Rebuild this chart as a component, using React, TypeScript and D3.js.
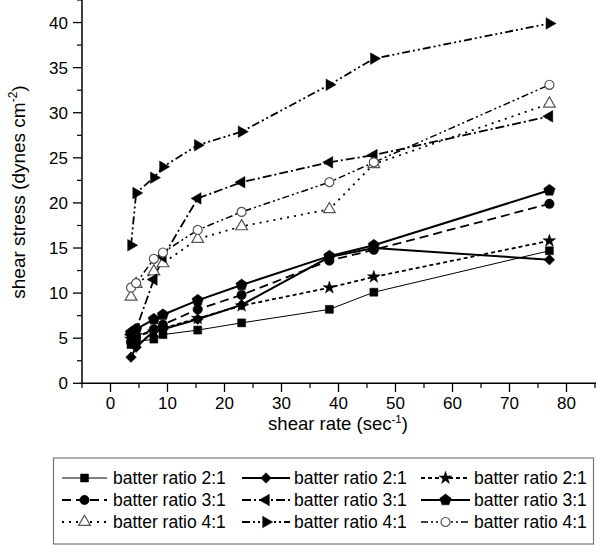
import React from "react";
import * as d3 from "d3";

const shearRate = [3.6, 4.5, 7.6, 9.2, 15.3, 23.0, 38.4, 46.2, 77.0];

const s21thin = [4.3, 4.6, 4.9, 5.4, 5.9, 6.7, 8.2, 10.1, 14.7];
const s31dash = [4.6, 5.1, 6.0, 6.5, 8.2, 9.8, 13.6, 14.8, 19.9];
const s41dot = [9.6, 11.0, 12.4, 13.3, 16.0, 17.4, 19.3, 24.3, 31.0];
const s21thick = [2.9, 4.0, 5.8, 6.0, 7.1, 8.7, 14.0, 15.0, 13.7];
const s31dashdot = [5.4, 6.0, 11.5, 14.0, 20.5, 22.3, 24.5, 25.3, 29.6];
const s41dashdotdot = [15.3, 21.1, 22.8, 24.0, 26.4, 27.9, 33.1, 36.0, 39.9];
const s21short = [4.9, 5.3, 5.7, 6.1, 7.2, 8.6, 10.6, 11.8, 15.8];
const s31thick = [5.6, 6.0, 7.1, 7.6, 9.2, 10.9, 14.1, 15.3, 21.4];
const s41open = [10.6, 11.1, 13.8, 14.5, 17.0, 19.0, 22.3, 24.5, 33.1];

const seriesLabels = [
  "batter ratio 2:1", "batter ratio 3:1", "batter ratio 4:1",
  "batter ratio 2:1", "batter ratio 3:1", "batter ratio 4:1",
  "batter ratio 2:1", "batter ratio 3:1", "batter ratio 4:1",
];

const xTicks = [0, 10, 20, 30, 40, 50, 60, 70, 80];
const yTicks = [0, 5, 10, 15, 20, 25, 30, 35, 40];

type Style = { dash: string; width: number; marker: string; open: boolean };
const styles: Style[] = [
  { dash: "none", width: 1, marker: "square", open: false },
  { dash: "9,5", width: 1.8, marker: "circle", open: false },
  { dash: "2,5", width: 1.8, marker: "triangle", open: true },
  { dash: "none", width: 2, marker: "diamond", open: false },
  { dash: "9,3,2,3", width: 1.8, marker: "left", open: false },
  { dash: "8,3,2,3,2,3", width: 1.8, marker: "right", open: false },
  { dash: "4,3", width: 1.8, marker: "star", open: false },
  { dash: "none", width: 2, marker: "pentagon", open: false },
  { dash: "7,3,2,3,2,3", width: 1.5, marker: "ocircle", open: true },
];
const allSeries = [s21thin, s31dash, s41dot, s21thick, s31dashdot, s41dashdotdot, s21short, s31thick, s41open];

function pentagonPath(r: number) {
  const pts: [number, number][] = [];
  for (let i = 0; i < 5; i++) {
    const a = -Math.PI / 2 + (i * 2 * Math.PI) / 5;
    pts.push([r * Math.cos(a), r * Math.sin(a)]);
  }
  return "M" + pts.map((p) => p.join(",")).join("L") + "Z";
}

function Marker({ kind, x, y, open }: { kind: string; x: number; y: number; open: boolean }) {
  let d = "";
  let rot = 0;
  if (kind === "square") d = d3.symbol(d3.symbolSquare, 64)() as string;
  else if (kind === "circle") d = d3.symbol(d3.symbolCircle, 70)() as string;
  else if (kind === "ocircle") d = d3.symbol(d3.symbolCircle, 64)() as string;
  else if (kind === "triangle") d = d3.symbol(d3.symbolTriangle, 60)() as string;
  else if (kind === "diamond") { d = d3.symbol(d3.symbolSquare, 56)() as string; rot = 45; }
  else if (kind === "left") { d = d3.symbol(d3.symbolTriangle, 58)() as string; rot = -90; }
  else if (kind === "right") { d = d3.symbol(d3.symbolTriangle, 58)() as string; rot = 90; }
  else if (kind === "star") d = d3.symbol(d3.symbolStar, 50)() as string;
  else if (kind === "pentagon") d = pentagonPath(6);
  return (
    <path
      d={d}
      transform={`translate(${x},${y}) rotate(${rot})`}
      fill={open ? "#fff" : "#000"}
      stroke={open ? "#555" : "#000"}
      strokeWidth={open ? 1.2 : 0.5}
    />
  );
}

export default function App() {
  const W = 597, H = 545;
  const x = d3.scaleLinear().domain([-5, 85]).range([82, 595]);
  const y = d3.scaleLinear().domain([0, 42.5]).range([383.3, 0]);
  const font = "'Liberation Sans', Arial, Helvetica, sans-serif";
  const line = d3.line<[number, number]>().x((d) => x(d[0])).y((d) => y(d[1]));

  const xMinor = d3.range(-5, 86, 5).filter((v) => v % 10 !== 0);
  const yMinor = d3.range(0, 42.6, 2.5).filter((v) => v % 5 !== 0);

  const legendCols = [
    { x0: 62, x1: 107, tx: 113 },
    { x0: 242, x1: 290, tx: 294 },
    { x0: 421, x1: 470, tx: 474 },
  ];
  const legendRows = [478, 500, 522];
  const legendIdx = [
    [0, 3, 6],
    [1, 4, 7],
    [2, 5, 8],
  ];

  return (
    <svg width={W} height={H} style={{ position: "absolute", left: 0, top: 0, background: "#fff" }} fontFamily={font}>
      <rect x={0} y={0} width={W} height={H} fill="#fff" />
      <line x1={82} x2={82} y1={0} y2={384} stroke="#000" strokeWidth={1.5} />
      <line x1={81.3} x2={596} y1={383.3} y2={383.3} stroke="#000" strokeWidth={1.5} />
      {yTicks.map((t) => (
        <g key={"yt" + t}>
          <line x1={73} x2={82} y1={y(t)} y2={y(t)} stroke="#000" strokeWidth={1.3} />
          <text x={68} y={y(t)} dy="0.36em" textAnchor="end" fontSize={17}>{t}</text>
        </g>
      ))}
      {yMinor.map((t) => (
        <line key={"ym" + t} x1={77} x2={82} y1={y(t)} y2={y(t)} stroke="#000" strokeWidth={1.2} />
      ))}
      {xTicks.map((t) => (
        <g key={"xt" + t}>
          <line x1={x(t)} x2={x(t)} y1={383} y2={392} stroke="#000" strokeWidth={1.3} />
          <text x={x(t)} y={409} textAnchor="middle" fontSize={17}>{t}</text>
        </g>
      ))}
      {xMinor.map((t) => (
        <line key={"xm" + t} x1={x(t)} x2={x(t)} y1={383} y2={388} stroke="#000" strokeWidth={1.2} />
      ))}
      <text x={338} y={430} textAnchor="middle" fontSize={18.5}>
        shear rate (sec<tspan fontSize={11.5} dy={-7}>-1</tspan><tspan dy={7}>)</tspan>
      </text>
      <text transform="translate(25,192) rotate(-90)" textAnchor="middle" fontSize={19}>
        shear stress (dynes cm<tspan fontSize={12} dy={-8}>-2</tspan><tspan dy={8}>)</tspan>
      </text>

      {allSeries.map((s, i) => (
        <path
          key={"l" + i}
          d={line(s.map((v, j) => [shearRate[j], v] as [number, number])) as string}
          fill="none"
          stroke="#000"
          strokeWidth={styles[i].width}
          strokeDasharray={styles[i].dash}
        />
      ))}
      {allSeries.map((s, i) =>
        s.map((v, j) => (
          <Marker key={"m" + i + "-" + j} kind={styles[i].marker} x={x(shearRate[j])} y={y(v)} open={styles[i].open} />
        ))
      )}

      <rect x={53.5} y={458} width={540} height={86} fill="#fff" stroke="#777" strokeWidth={1.2} />
      {legendRows.map((ry, r) =>
        legendCols.map((c, ci) => {
          const idx = legendIdx[r][ci];
          const st = styles[idx];
          return (
            <g key={"lg" + r + "-" + ci}>
              <line x1={c.x0} x2={c.x1} y1={ry} y2={ry} stroke="#000" strokeWidth={st.width} strokeDasharray={st.dash} />
              <Marker kind={st.marker} x={(c.x0 + c.x1) / 2} y={ry} open={st.open} />
              <text x={c.tx} y={ry} dy="0.36em" fontSize={17.5}>{seriesLabels[idx]}</text>
            </g>
          );
        })
      )}
    </svg>
  );
}
